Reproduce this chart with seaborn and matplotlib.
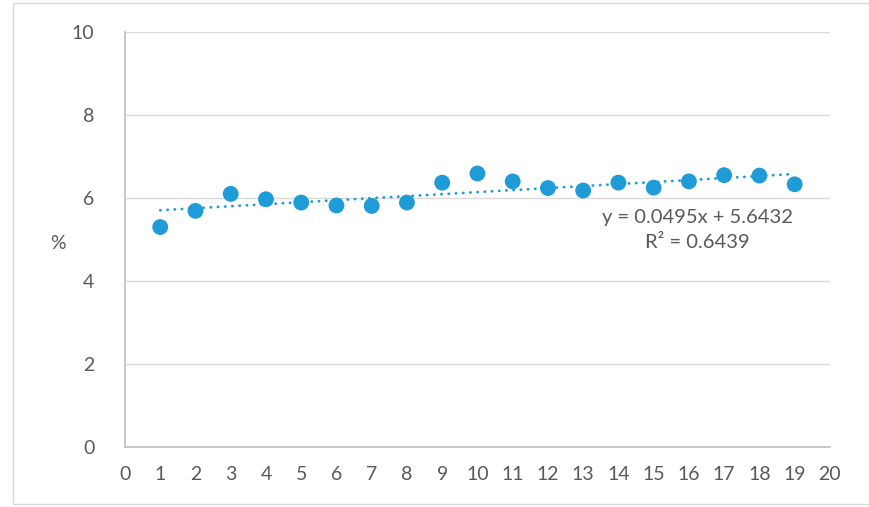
import numpy as np
import pandas as pd
import matplotlib
matplotlib.use("Agg")
import matplotlib.pyplot as plt
import seaborn as sns
from matplotlib.patches import Rectangle

# values
x_vals = list(range(1, 20))
pct = [5.30, 5.69, 6.10, 5.97, 5.89, 5.82, 5.81, 5.89, 6.37, 6.59,
       6.40, 6.24, 6.18, 6.37, 6.25, 6.40, 6.55, 6.54, 6.33]
eq_text = "y = 0.0495x + 5.6432"
r2_text = "R² = 0.6439"

df = pd.DataFrame({"x": x_vals, "pct": pct})

sns.set_style("white")
plt.rcParams["font.family"] = ["Lato", "DejaVu Sans"]

blue = "#1f9bd7"
grey_txt = "#595959"

fig = plt.figure(figsize=(8.69, 5.07), dpi=100)
ax = fig.add_axes([0.1438, 0.1183, 0.955 - 0.1438, 0.9369 - 0.1183])

# linear trendline from the data
coef = np.polyfit(df["x"], df["pct"], 1)
xt = np.array([df["x"].min(), df["x"].max()])
ax.plot(xt, np.polyval(coef, xt), color=blue, lw=2.0,
        linestyle=(0, (0.1, 2.5)), dash_capstyle="round", zorder=2)

sns.scatterplot(data=df, x="x", y="pct", ax=ax, color=blue, s=130,
                edgecolor="none", zorder=3, legend=False)

ax.set_xlim(0, 20)
ax.set_ylim(0, 10)
ax.set_xticks(range(0, 21))
ax.set_yticks(range(0, 11, 2))
ax.yaxis.grid(True, color="#d9d9d9", lw=1.0)
ax.set_axisbelow(True)
for s in ["top", "right"]:
    ax.spines[s].set_visible(False)
for s in ["left", "bottom"]:
    ax.spines[s].set_color("#bfbfbf")
    ax.spines[s].set_linewidth(1.2)
ax.tick_params(axis="both", length=0, labelsize=14, colors=grey_txt)
ax.tick_params(axis="x", pad=14)
ax.tick_params(axis="y", pad=22)
ax.set_xlabel("")
ax.set_ylabel("%", rotation=0, fontsize=14, color=grey_txt, va="center", ha="center")
ax.yaxis.set_label_coords(-0.095, 0.49)

ax.text(16.23, 5.54, eq_text, ha="center", va="center", fontsize=14.5, color=grey_txt)
ax.text(16.23, 4.92, r2_text, ha="center", va="center", fontsize=14.5, color=grey_txt)

fig.patches.append(Rectangle((13 / 869, 3 / 507), 1.0, 1 - 6 / 507,
                             transform=fig.transFigure, fill=False,
                             edgecolor="#d9d9d9", lw=1.0))

fig.savefig("out.png", dpi=100)
